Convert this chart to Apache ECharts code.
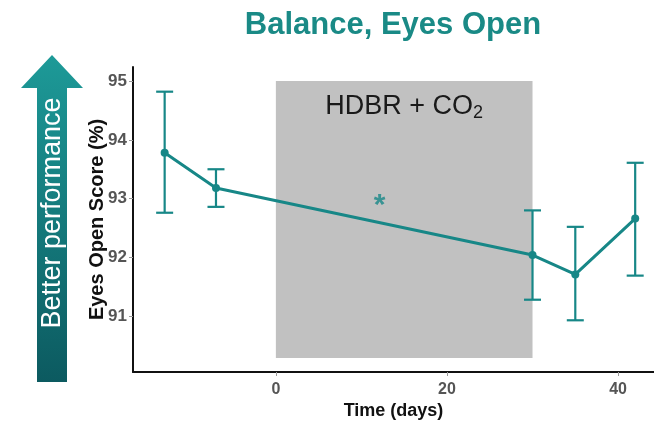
<!DOCTYPE html>
<html>
<head>
<meta charset="utf-8">
<script src="https://cdn.jsdelivr.net/npm/echarts@6/dist/echarts.min.js"></script>
<style>
html,body{margin:0;padding:0;background:#fff;}
#chart{width:654px;height:425px;}
</style>
</head>
<body>
<div id="chart"></div>
<script>
// ---- data ----
const days  = [-13, -7, 30, 35, 42];
const mean  = [93.78, 93.18, 92.04, 91.71, 92.66];
const upper = [94.82, 93.50, 92.80, 92.52, 93.61];
const lower = [92.76, 92.86, 91.28, 90.93, 91.69];
const xTicks = [0, 20, 40];
const yTicks = [91, 92, 93, 94, 95];
const hdbrStart = 0, hdbrEnd = 30;
const sigDay = [12], sigVal = [92.95];

const TEAL = '#178787';
const FONT = 'Liberation Sans, Arial, sans-serif';

const chart = echarts.init(document.getElementById('chart'));

const lineData = days.map((d, i) => [d, mean[i]]);
const errData = days.map((d, i) => [d, lower[i], upper[i]]);

chart.setOption({
  animation: false,
  title: {
    text: 'Balance, Eyes Open',
    left: 388, top: 5, textAlign: 'center',
    textStyle: { color: '#1a8a86', fontSize: 31, fontWeight: 'bold', fontFamily: FONT }
  },
  grid: { left: 133, right: 0, top: 67, bottom: 52 },
  xAxis: {
    type: 'value', min: -16.7, max: 44.2,
    name: 'Time (days)', nameLocation: 'middle', nameGap: 30,
    nameMoveOverlap: false,
    nameTextStyle: { color: '#111', fontSize: 18, fontWeight: 'bold', fontFamily: FONT },
    axisLine: { show: true, onZero: false, lineStyle: { color: '#111', width: 2 } },
    axisTick: { show: true, customValues: xTicks, length: 4, lineStyle: { color: '#999' } },
    axisLabel: { customValues: xTicks, color: '#555', fontSize: 16, fontWeight: 'bold', margin: 10, fontFamily: FONT },
    splitLine: { show: false }
  },
  yAxis: {
    type: 'value', min: 90.05, max: 95.24,
    name: 'Eyes Open Score (%)', nameLocation: 'middle', nameGap: 26,
    nameMoveOverlap: false,
    nameTextStyle: { color: '#111', fontSize: 20, fontWeight: 'bold', fontFamily: FONT },
    axisLine: { show: true, onZero: false, lineStyle: { color: '#111', width: 2 } },
    axisTick: { show: true, customValues: yTicks, length: 4, lineStyle: { color: '#999' } },
    axisLabel: { customValues: yTicks, color: '#555', fontSize: 17, fontWeight: 'bold', margin: 6, fontFamily: FONT },
    splitLine: { show: false }
  },
  graphic: [
    {
      type: 'polygon', z: 1,
      shape: { points: [[52, 55], [83, 88], [67, 88], [67, 382], [37, 382], [37, 88], [21, 88]] },
      style: {
        fill: new echarts.graphic.LinearGradient(0, 0, 0, 1, [
          { offset: 0, color: '#1d9a98' },
          { offset: 1, color: '#0c5a60' }
        ])
      }
    },
    {
      type: 'text', z: 2,
      x: 53, y: 213, rotation: Math.PI / 2,
      style: {
        text: 'Better performance', fill: '#ffffff', fontSize: 27,
        fontFamily: FONT,
        align: 'center', verticalAlign: 'middle'
      }
    }
  ],
  series: [
    {
      type: 'line',
      data: lineData,
      symbol: 'circle', symbolSize: 8,
      lineStyle: { color: TEAL, width: 3 },
      itemStyle: { color: TEAL },
      z: 5,
      markArea: {
        silent: true,
        itemStyle: { color: '#c1c1c1' },
        label: {
          show: true, position: 'insideTop', distance: 9,
          formatter: 'HDBR + CO{s|2}',
          color: '#1a1a1a', fontSize: 27,
          fontFamily: FONT,
          rich: { s: { fontSize: 18, color: '#1a1a1a', padding: [14, 0, 0, 0], fontFamily: FONT } }
        },
        data: [[{ xAxis: hdbrStart, yAxis: 95 }, { xAxis: hdbrEnd, yAxis: 90.29 }]]
      }
    },
    {
      type: 'custom',
      data: errData,
      z: 4,
      renderItem: function (params, api) {
        const x = api.value(0);
        const lo = api.coord([x, api.value(1)]);
        const hi = api.coord([x, api.value(2)]);
        const w = 8.5;
        const st = { stroke: TEAL, lineWidth: 2.2 };
        return {
          type: 'group',
          children: [
            { type: 'line', shape: { x1: lo[0], y1: lo[1], x2: hi[0], y2: hi[1] }, style: st },
            { type: 'line', shape: { x1: hi[0] - w, y1: hi[1], x2: hi[0] + w, y2: hi[1] }, style: st },
            { type: 'line', shape: { x1: lo[0] - w, y1: lo[1], x2: lo[0] + w, y2: lo[1] }, style: st }
          ]
        };
      }
    },
    {
      type: 'scatter',
      data: sigDay.map((d, i) => [d, sigVal[i]]),
      symbolSize: 0,
      z: 6,
      label: {
        show: true, position: 'inside', formatter: '*',
        color: TEAL, fontSize: 30, fontWeight: 'bold', offset: [1, 4],
        fontFamily: FONT
      }
    }
  ]
});
</script>
</body>
</html>
